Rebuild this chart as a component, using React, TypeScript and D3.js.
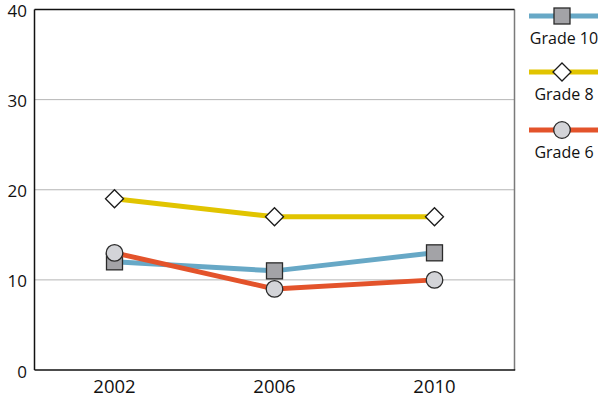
import React from "react";
import * as d3 from "d3";

const categories = ["2002", "2006", "2010"];
const grade10 = [12, 11, 13];
const grade8 = [19, 17, 17];
const grade6 = [13, 9, 10];
const yTicks = [0, 10, 20, 30, 40];
const seriesNames = ["Grade 10", "Grade 8", "Grade 6"];

const W = 600, H = 401;
const L = 34.5, R = 514.5, T = 9.5, B = 370;
const FONT = "'Open Sans', 'DejaVu Sans', sans-serif";

type Series = { name: string; values: number[]; color: string; marker: string };

const series: Series[] = [
  { name: seriesNames[0], values: grade10, color: "#67a8c6", marker: "square" },
  { name: seriesNames[1], values: grade8, color: "#e1c400", marker: "diamond" },
  { name: seriesNames[2], values: grade6, color: "#e3532b", marker: "circle" },
];

function Marker({ type, x, y }: { type: string; x: number; y: number }) {
  if (type === "square")
    return <rect x={x - 8} y={y - 8} width={16} height={16} fill="#a3a3a7" stroke="#2a2a2a" strokeWidth={1.3} />;
  if (type === "diamond")
    return (
      <path
        d={`M${x},${y - 9}L${x + 9},${y}L${x},${y + 9}L${x - 9},${y}Z`}
        fill="#fff"
        stroke="#1a1a1a"
        strokeWidth={1.3}
      />
    );
  return <circle cx={x} cy={y} r={8.3} fill="#d3d4d8" stroke="#2a2a2a" strokeWidth={1.3} />;
}

export default function App() {
  const x = d3.scaleBand<string>().domain(categories).range([L, R]);
  const y = d3.scaleLinear().domain([0, 40]).range([B, T]);
  const cx = (c: string) => (x(c) as number) + x.bandwidth() / 2;
  const line = d3
    .line<number>()
    .x((_, i) => cx(categories[i]))
    .y((v) => y(v));

  const legendY = [16, 72, 130];

  return (
    <svg
      width={W}
      height={H}
      style={{ position: "absolute", left: 0, top: 0, background: "#fff" }}
      fontFamily={FONT}
    >
      {yTicks.slice(1, 4).map((t) => (
        <line key={t} x1={L} x2={R} y1={y(t)} y2={y(t)} stroke="#b5b5b5" strokeWidth={1} />
      ))}
      <line x1={R} x2={R} y1={T} y2={B} stroke="#7a7a7a" strokeWidth={1.5} />
      <line x1={L} x2={R} y1={T} y2={T} stroke="#111" strokeWidth={1.5} />
      <line x1={L} x2={R + 0.7} y1={B} y2={B} stroke="#111" strokeWidth={1.5} />
      <line x1={L} x2={L} y1={T} y2={B} stroke="#111" strokeWidth={1.5} />

      {yTicks.map((t) => (
        <text key={t} x={27} y={y(t) + 1.5} dy="0.36em" textAnchor="end" fontSize={17} fill="#111">
          {t}
        </text>
      ))}
      {categories.map((c) => (
        <text key={c} x={cx(c)} y={393} textAnchor="middle" fontSize={18.5} fill="#111">
          {c}
        </text>
      ))}

      {series.map((s) => (
        <g key={s.name}>
          <path d={line(s.values) || ""} fill="none" stroke={s.color} strokeWidth={5} />
          {s.values.map((v, i) => (
            <Marker key={i} type={s.marker} x={cx(categories[i])} y={y(v)} />
          ))}
        </g>
      ))}

      {series.map((s, i) => (
        <g key={"lg" + s.name}>
          <line x1={529} x2={598} y1={legendY[i]} y2={legendY[i]} stroke={s.color} strokeWidth={5} />
          <Marker type={s.marker} x={562} y={legendY[i]} />
          <text x={564} y={legendY[i] + 28} textAnchor="middle" fontSize={16} fill="#111">
            {s.name}
          </text>
        </g>
      ))}
    </svg>
  );
}
